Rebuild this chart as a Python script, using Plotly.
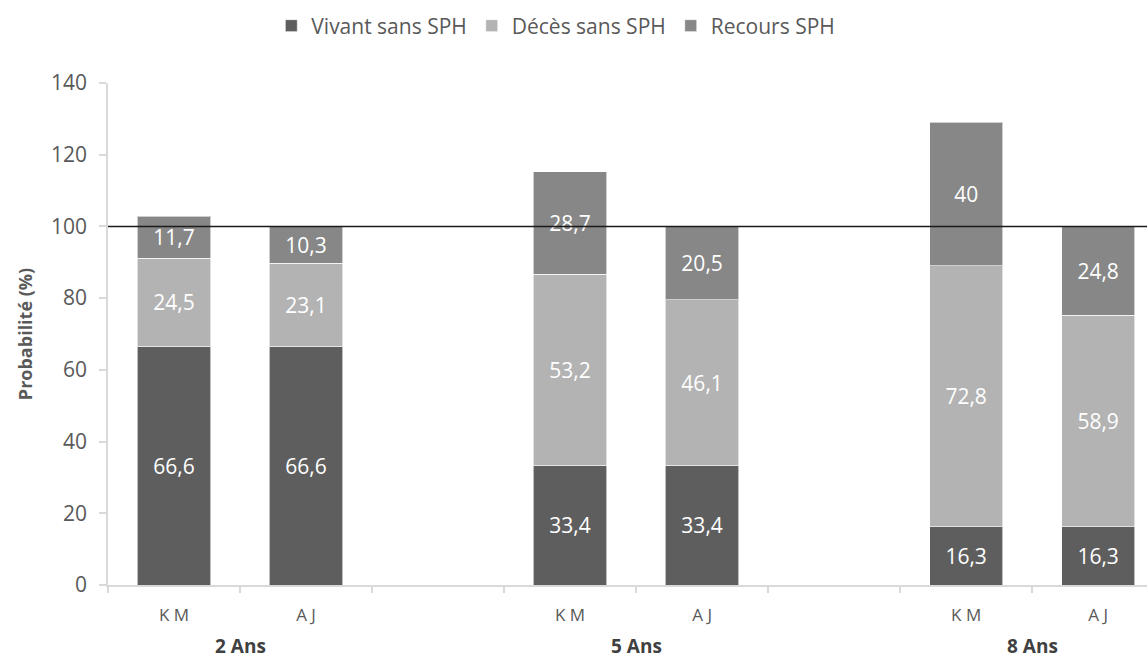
import plotly.graph_objects as go

# Horizons and estimators
groups = ["2 Ans", "5 Ans", "8 Ans"]
estimators = ["K M", "A J"]

# Stacked components (%) for KM and AJ at each horizon
vivant = [66.6, 66.6, 33.4, 33.4, 16.3, 16.3]
deces = [24.5, 23.1, 53.2, 46.1, 72.8, 58.9]
recours = [11.7, 10.3, 28.7, 20.5, 40, 24.8]

series_names = ["Vivant sans SPH", "Décès sans SPH", "Recours SPH"]
colors = ["#5e5e5e", "#b3b3b3", "#878787"]

y_ticks = [0, 20, 40, 60, 80, 100, 120, 140]

# Slot positions: two bars per horizon, one empty slot between horizons
positions = []
for g in range(len(groups)):
    for e in range(len(estimators)):
        positions.append(g * 3 + e)


def fmt(v):
    return f"{v:g}".replace(".", ",")


fig = go.Figure()
for name, vals, col in zip(series_names, [vivant, deces, recours], colors):
    fig.add_trace(go.Bar(
        x=positions,
        y=vals,
        name=name,
        marker=dict(color=col, line=dict(color="rgba(255,255,255,0.6)", width=1)),
        width=0.555,
        text=[fmt(v) for v in vals],
        textposition="inside",
        insidetextanchor="middle",
        textangle=0,
        textfont=dict(family="Open Sans", size=21, color="white"),
        hoverinfo="skip",
    ))

# Reference line at 100 %
fig.add_shape(type="line", xref="paper", yref="y", x0=0, x1=1, y0=100, y1=100,
              line=dict(color="#1a1a1a", width=1.6))

# Horizon labels below the estimator labels
for g, label in enumerate(groups):
    fig.add_annotation(x=g * 3 + 0.5, y=0, xref="x", yref="paper",
                       yanchor="middle", yshift=-61,
                       text=f"<b>{label}</b>", showarrow=False,
                       font=dict(family="Open Sans", size=19, color="#404040"))

fig.update_layout(
    width=1147, height=661,
    margin=dict(l=108, r=0, t=83, b=76),
    barmode="stack",
    plot_bgcolor="white",
    paper_bgcolor="white",
    font=dict(family="Open Sans", color="#595959"),
    showlegend=True,
    legend=dict(orientation="h", x=0.431, xanchor="center",
                y=1 - 26 / 661, yanchor="middle", yref="container",
                font=dict(family="Open Sans", size=21, color="#595959"),
                itemwidth=30, traceorder="normal"),
    xaxis=dict(
        range=[-0.5, 7.37],
        tickmode="array",
        tickvals=positions,
        ticktext=estimators * len(groups),
        ticks="",
        tickfont=dict(family="Open Sans", size=17, color="#595959"),
        showgrid=False,
        showline=True,
        linecolor="#d9d9d9",
        linewidth=1.5,
        zeroline=False,
        ticklabelstandoff=14,
        minor=dict(ticks="outside", tick0=-0.5, dtick=1, ticklen=6,
                   tickcolor="#d9d9d9", tickwidth=1.5, showgrid=False),
    ),
    yaxis=dict(
        range=[0, 140],
        tickmode="array",
        tickvals=y_ticks,
        ticks="outside",
        ticklen=7,
        tickcolor="#d9d9d9",
        tickwidth=1.5,
        tickfont=dict(family="Open Sans", size=21, color="#595959"),
        ticklabelstandoff=8,
        showgrid=False,
        showline=True,
        linecolor="#d9d9d9",
        linewidth=1.5,
        zeroline=False,
        title=dict(text="<b>Probabilité (%)</b>", standoff=14,
                   font=dict(family="Open Sans", size=18, color="#595959")),
    ),
)

fig.write_html("out.html")
